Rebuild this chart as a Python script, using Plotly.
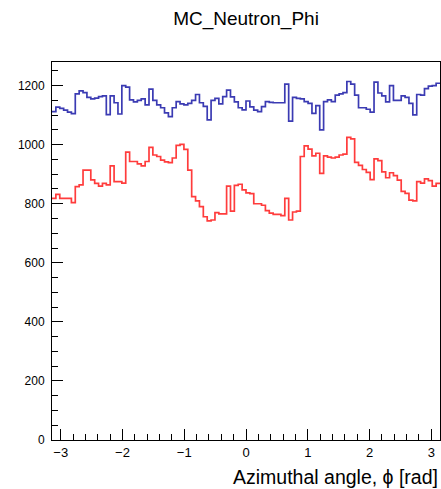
import numpy as np
import plotly.graph_objects as go

# ---- data (100 bins from -pi to pi) ----
n_bins = 100
x_min = -np.pi
x_max = np.pi

blue_counts = [
    1112, 1127, 1123, 1117, 1110, 1105, 1172, 1182, 1176, 1160,
    1155, 1158, 1163, 1165, 1102, 1165, 1142, 1104, 1200, 1195,
    1152, 1145, 1150, 1155, 1135, 1188, 1150, 1135, 1125, 1108,
    1095, 1125, 1146, 1138, 1135, 1140, 1150, 1170, 1142, 1130,
    1084, 1150, 1157, 1138, 1163, 1185, 1162, 1145, 1125, 1118,
    1148, 1128, 1117, 1112, 1129, 1146, 1143, 1142, 1142, 1142,
    1205, 1080, 1160, 1157, 1155, 1146, 1140, 1106, 1132, 1050,
    1146, 1152, 1146, 1168, 1172, 1176, 1214, 1205, 1168, 1125,
    1125, 1120, 1110, 1212, 1175, 1165, 1145, 1200, 1150, 1150,
    1165, 1160, 1140, 1101, 1170, 1168, 1190, 1198, 1200, 1208,
]

red_counts = [
    818, 832, 818, 818, 818, 804, 858, 864, 914, 914,
    881, 869, 860, 869, 864, 928, 875, 875, 870, 975,
    943, 943, 935, 928, 943, 991, 965, 960, 948, 942,
    939, 955, 998, 1001, 984, 914, 824, 810, 790, 756,
    742, 745, 770, 766, 766, 860, 775, 862, 866, 847,
    837, 834, 800, 800, 795, 777, 768, 764, 764, 760,
    818, 745, 772, 775, 960, 996, 985, 962, 971, 903,
    962, 958, 955, 958, 965, 968, 1025, 1020, 940, 930,
    916, 906, 882, 952, 946, 908, 888, 905, 895, 880,
    842, 835, 812, 810, 875, 870, 884, 878, 860, 869,
]

x_tick_vals = [-3, -2, -1, 0, 1, 2, 3]
x_tick_text = ["\u22123", "\u22122", "\u22121", "0", "1", "2", "3"]
y_tick_vals = [0, 200, 400, 600, 800, 1000, 1200]

title_text = "MC_Neutron_Phi"
x_title = "Azimuthal angle, ϕ [rad]"

# ---- build step outlines ----
edges = np.linspace(x_min, x_max, n_bins + 1)


def step_xy(counts):
    xs = list(edges)
    ys = list(counts) + [counts[-1]]
    return xs, ys


FONT = "Liberation Sans, Arial, Helvetica, sans-serif"

fig = go.Figure()
for counts, color in [(blue_counts, "#3b3bb3"), (red_counts, "#ff3c3c")]:
    xs, ys = step_xy(counts)
    fig.add_trace(go.Scatter(
        x=xs, y=ys, mode="lines", line=dict(shape="hv", color=color, width=1.7),
        hoverinfo="skip", showlegend=False,
    ))

fig.update_layout(
    width=441, height=489,
    margin=dict(l=52, r=1, t=62, b=49),
    paper_bgcolor="white", plot_bgcolor="white",
    font=dict(family=FONT, color="black", size=12),
    title=dict(text=title_text, x=0.5, xref="paper", xanchor="center",
               y=1 - 18 / 489, yref="container", yanchor="middle",
               font=dict(family=FONT, size=19, color="black")),
    showlegend=False,
)

fig.update_xaxes(
    range=[x_min, x_max], showgrid=False, zeroline=False,
    showline=True, linecolor="black", linewidth=1, mirror=True,
    ticks="inside", ticklen=11, tickwidth=1, tickcolor="black",
    tickvals=x_tick_vals, ticktext=x_tick_text,
    tickfont=dict(size=13),
    minor=dict(dtick=0.2, tick0=0, ticks="inside", ticklen=6, tickcolor="black", showgrid=False),
    title=None,
)
fig.update_yaxes(
    range=[0, 1280], showgrid=False, zeroline=False,
    showline=True, linecolor="black", linewidth=1, mirror=True,
    ticks="inside", ticklen=11, tickwidth=1, tickcolor="black",
    tickvals=y_tick_vals, tickfont=dict(size=12), ticklabelstandoff=4,
    minor=dict(dtick=50, tick0=0, ticks="inside", ticklen=6, tickcolor="black", showgrid=False),
)

fig.add_annotation(
    text=x_title, xref="paper", yref="paper", x=1, y=0, xanchor="right", yanchor="middle",
    yshift=-37, xshift=0, showarrow=False, font=dict(family=FONT, size=19.5, color="black"),
)

fig.write_html(
    "out.html",
    config={"displayModeBar": False},
    post_script="document.body.style.margin='0px';document.body.style.overflow='hidden';",
)
